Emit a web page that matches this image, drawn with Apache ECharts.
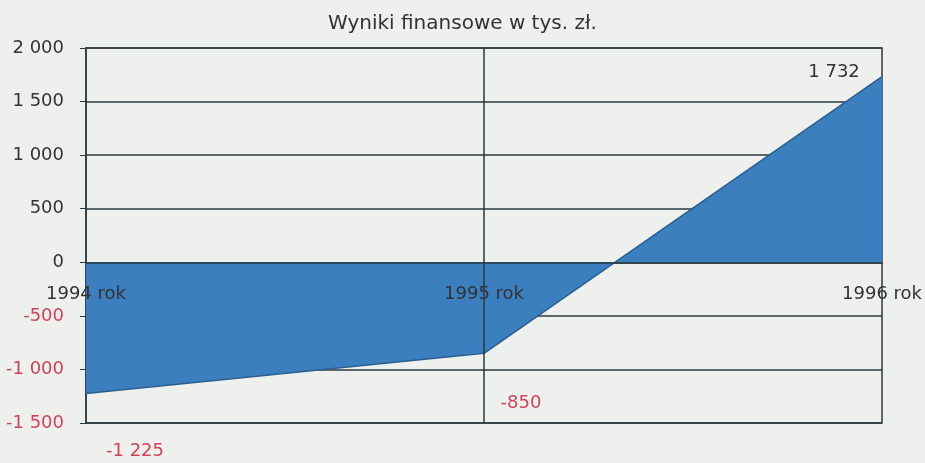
<!DOCTYPE html>
<html>
<head>
<meta charset="utf-8">
<script src="https://cdn.jsdelivr.net/npm/echarts@6/dist/echarts.min.js"></script>
<style>html,body{margin:0;padding:0;background:#eef0ed}#c{width:925px;height:463px}</style>
</head>
<body>
<div id="c"></div>
<script>
var title = 'Wyniki finansowe w tys. zł.';
var categories = ['1994 rok', '1995 rok', '1996 rok'];
var values = [-1225, -850, 1732];
var yMin = -1500, yMax = 2000, yStep = 500;

function fmt(v) {
  var s = String(Math.abs(v)).replace(/\B(?=(\d{3})+(?!\d))/g, ' ');
  return (v < 0 ? '-' : '') + s;
}
var RED = '#d2405a', DARK = '#333333', LINE = '#2b3a40';
var labelOffsets = [[49, 58], [37, 50], [-48, -4]];

var gridTop = 48, gridBottom = 40, H = 463;
var plotH = H - gridTop - gridBottom;
var zeroOffset = -plotH * (0 - yMin) / (yMax - yMin);

var chart = echarts.init(document.getElementById('c'));
chart.setOption({
  backgroundColor: '#eef0ed',
  textStyle: { fontFamily: 'DejaVu Sans' },
  title: {
    text: title, left: 'center', top: 9,
    textStyle: { fontFamily: 'DejaVu Sans', fontSize: 20, fontWeight: 'normal', color: DARK }
  },
  grid: { left: 86, right: 42, top: gridTop, bottom: gridBottom, show: true, borderColor: LINE, borderWidth: 1.5, backgroundColor: 'transparent' },
  xAxis: {
    type: 'category', data: categories, boundaryGap: false, z: 5,
    offset: zeroOffset,
    axisLine: { onZero: false, lineStyle: { color: LINE, width: 1.5 } },
    axisTick: { show: false },
    axisLabel: { margin: 23, fontSize: 18, color: DARK, fontFamily: 'DejaVu Sans' },
    splitLine: { show: false }
  },
  yAxis: {
    type: 'value', min: yMin, max: yMax, interval: yStep,
    axisLine: { show: true, lineStyle: { color: LINE, width: 1.5 } },
    axisTick: { show: true, length: 6, lineStyle: { color: LINE } },
    axisLabel: {
      fontSize: 18, fontFamily: 'DejaVu Sans', margin: 22,
      formatter: function (v) { return fmt(v); },
      color: function (v) { return Number(v) < 0 ? RED : DARK; }
    },
    splitLine: { show: true, lineStyle: { color: LINE, width: 1.5 } }
  },
  series: [{
    type: 'line',
    data: values.map(function (v, i) {
      return {
        value: v,
        label: {
          show: true, position: 'inside', offset: labelOffsets[i],
          formatter: fmt(v), fontSize: 18, fontFamily: 'DejaVu Sans',
          color: v < 0 ? RED : DARK
        }
      };
    }),
    symbol: 'circle', symbolSize: 1,
    itemStyle: { color: 'rgba(0,0,0,0)', borderWidth: 0 },
    lineStyle: { color: '#2a5f8f', width: 1.5 },
    areaStyle: { color: '#3b7fbf', opacity: 1, origin: 0 },
    markLine: {
      silent: true, symbol: 'none', label: { show: false },
      lineStyle: { color: LINE, width: 1.5, type: 'solid' },
      data: [{ xAxis: '1995 rok' }]
    },
    animation: false
  }]
});
</script>
</body>
</html>
